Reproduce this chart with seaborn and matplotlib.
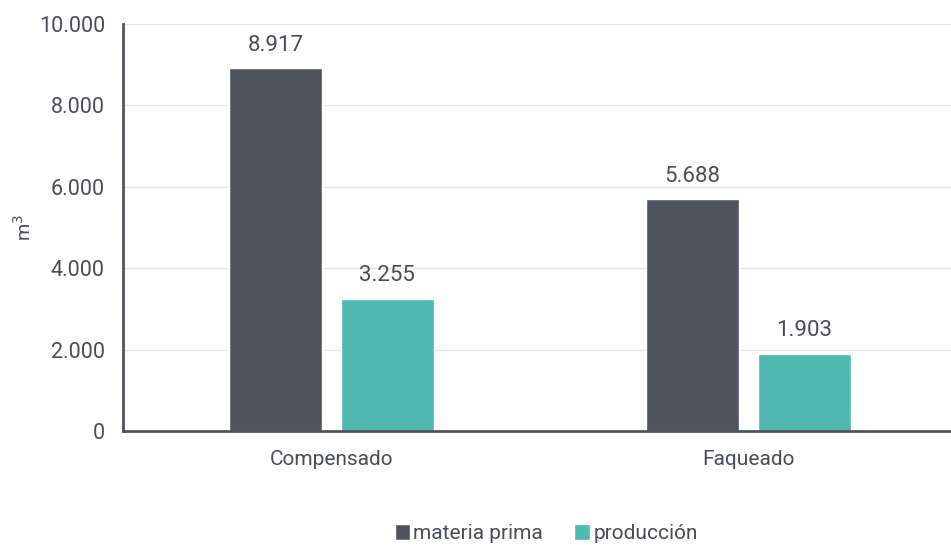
import matplotlib
matplotlib.use("Agg")
import matplotlib.pyplot as plt
import seaborn as sns
import pandas as pd
from matplotlib.ticker import FuncFormatter

# data
categories = ["Compensado", "Faqueado"]
series = ["materia prima", "producción"]
materia_prima = [8917, 5688]
produccion = [3255, 1903]
colors = ["#50535d", "#50b9b1"]

df = pd.DataFrame({
    "categoria": categories * 2,
    "serie": [series[0]] * 2 + [series[1]] * 2,
    "valor": materia_prima + produccion,
})

sns.set_theme(style="white")
plt.rcParams["font.family"] = ["Roboto", "DejaVu Sans"]
text_color = "#4a4d55"
fs = 15

fig = plt.figure(figsize=(9.51, 5.45), dpi=100)
ax = fig.add_axes([123 / 951, 1 - 431 / 545, 1 - 123 / 951, (431 - 24) / 545])

sns.barplot(data=df, x="categoria", y="valor", hue="serie", order=categories,
            hue_order=series, palette=colors, width=0.537, gap=0.17,
            saturation=1, ax=ax, legend=True)

def fmt(v, _=None):
    return f"{int(round(v)):,}".replace(",", ".")

for cont in ax.containers:
    ax.bar_label(cont, labels=[fmt(b.get_height()) for b in cont],
                 padding=9, fontsize=16, color=text_color)

ax.set_ylim(0, 10000)
ax.set_xlim(-0.5, 1.486)
ax.set_yticks([0, 2000, 4000, 6000, 8000, 10000])
ax.yaxis.set_major_formatter(FuncFormatter(fmt))
ax.set_xticks([0, 1])
ax.set_xticklabels(categories)
ax.set_xticks([-0.5, 0.5], minor=True)
ax.tick_params(axis="x", which="major", length=0, pad=14, labelsize=fs, colors=text_color)
ax.tick_params(axis="x", which="minor", length=6, width=1.5, direction="out", color="#50535d")
ax.tick_params(axis="y", length=7, width=1.5, direction="out", color="#50535d",
               labelsize=15.5, labelcolor=text_color, pad=6)
ax.grid(axis="y", color="#e6e6e6", linewidth=1)
ax.set_axisbelow(True)

for s in ["top", "right"]:
    ax.spines[s].set_visible(False)
for s in ["left", "bottom"]:
    ax.spines[s].set_color("#50535d")
    ax.spines[s].set_linewidth(2)

ax.set_xlabel("")
ax.set_ylabel("m$^3$", fontsize=14, color=text_color, labelpad=3)

leg = ax.legend(loc="lower center", bbox_to_anchor=(0.511, -0.322), ncol=2,
                frameon=False, fontsize=fs, handlelength=0.75, handleheight=0.75,
                handletextpad=0.15, columnspacing=1.5)
for t in leg.get_texts():
    t.set_color(text_color)

fig.savefig("out.png", dpi=100)
